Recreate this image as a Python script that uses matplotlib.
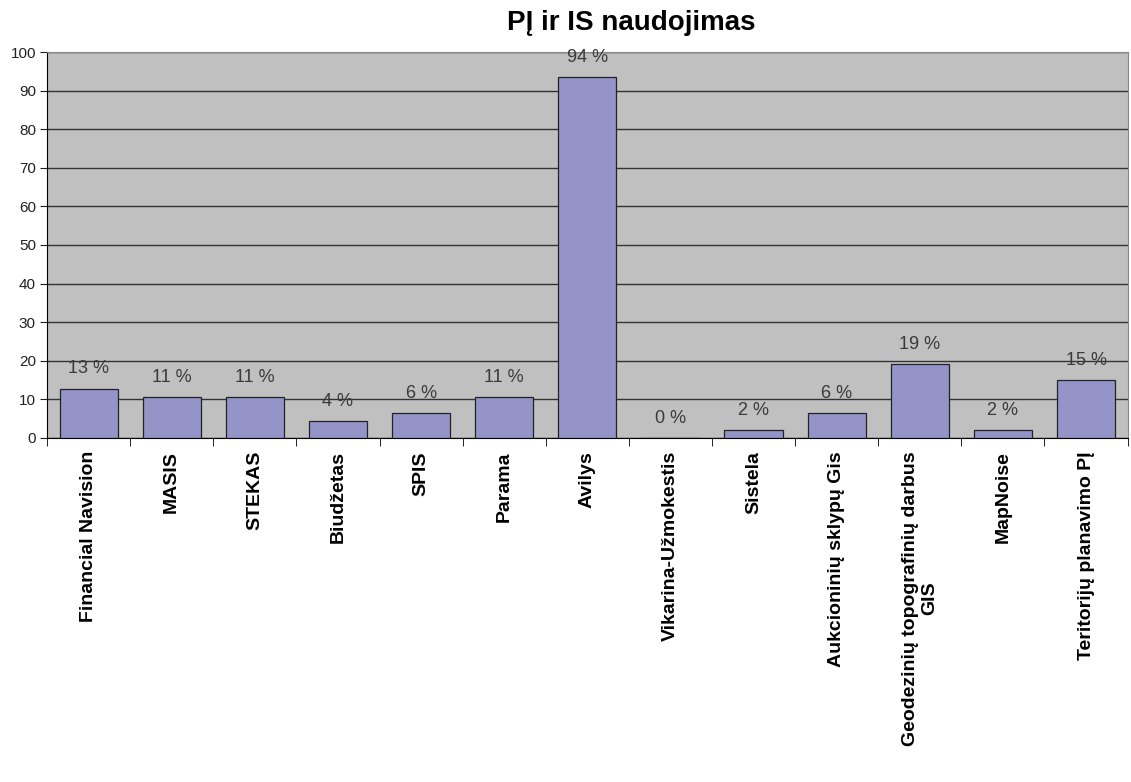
import numpy as np
import matplotlib
matplotlib.use("Agg")
from matplotlib import pyplot as plt

categories = ["Financial Navision", "MASIS", "STEKAS", "Biudžetas", "SPIS",
              "Parama", "Avilys", "Vikarina-Užmokestis", "Sistela",
              "Aukcioninių sklypų Gis",
              "Geodezinių topografinių darbus\nGIS", "MapNoise",
              "Teritorijų planavimo PĮ"]
values = [12.8, 10.6, 10.6, 4.3, 6.4, 10.6, 93.6, 0.0, 2.1, 6.4, 19.1, 2.1, 14.9]
yticks = [0, 10, 20, 30, 40, 50, 60, 70, 80, 90, 100]

plt.rcParams['font.family'] = ['Liberation Sans', 'DejaVu Sans']

fig = plt.figure(figsize=(11.31, 7.82), dpi=100)
ax = fig.add_axes([0.0416, 0.44, 0.9554, 0.4935])
ax.set_facecolor('#C0C0C0')

x = np.arange(len(categories))
bars = ax.bar(x, values, width=0.7, color='#9494C8', edgecolor='#222222', lw=0.9, zorder=3)

# percent labels above bars
for xi, v in zip(x, values):
    ax.annotate("%d %%" % round(v), (xi, v), xytext=(0, 8), textcoords='offset points',
                ha='center', va='bottom', fontsize=13, color='#3a3a3a', zorder=4)

ax.set_ylim(0, 100)
ax.set_xlim(-0.5, len(categories) - 0.5)
ax.set_yticks(yticks)
ax.yaxis.grid(True, color='#333333', lw=1.0, zorder=1)
ax.tick_params(axis='y', labelsize=11, colors='#222222', length=5, pad=3)

ax.set_xticks(x)
ax.set_xticklabels(categories, rotation=90, fontsize=14, fontweight='bold', va='top', ha='center',
                   multialignment='center')
ax.tick_params(axis='x', length=0, pad=9.5)
ax.set_xticks(np.arange(len(categories) + 1) - 0.5, minor=True)
ax.tick_params(axis='x', which='minor', length=6, color='black')

for s in ['top', 'right']:
    ax.spines[s].set_color('#888888')
ax.spines['left'].set_color('black')
ax.spines['bottom'].set_color('black')

fig.text(0.558, 0.971, "PĮ ir IS naudojimas", ha='center', va='center', fontsize=20, fontweight='bold')

fig.savefig("out.png", dpi=100)
